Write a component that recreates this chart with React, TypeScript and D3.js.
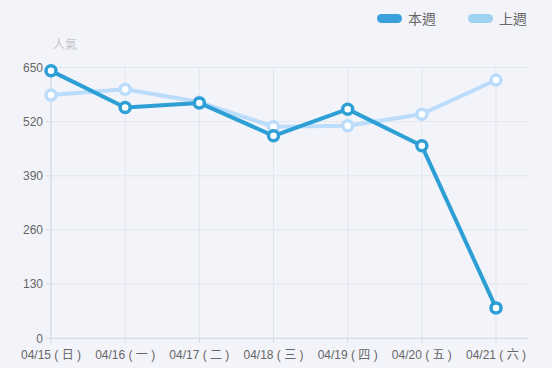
import React from 'react';
import * as d3 from 'd3';

const W = 552;
const H = 368;

const days = ['04/15 ( 日 )', '04/16 ( 一 )', '04/17 ( 二 )', '04/18 ( 三 )', '04/19 ( 四 )', '04/20 ( 五 )', '04/21 ( 六 )'];
const thisWeek = [642, 554, 565, 486, 550, 462, 73];
const lastWeek = [584, 598, 567, 508, 510, 538, 620];
const yTicks = [0, 130, 260, 390, 520, 650];

const DARK = '#2d9fd5';
const LIGHT = '#bcdcfb';
const FONT = '"Liberation Sans", "Noto Sans CJK TC", sans-serif';

export default function App() {
  const x = d3.scalePoint<string>().domain(days).range([51, 496]);
  const y = d3.scaleLinear().domain([0, 650]).range([338.3, 67.5]);
  const line = d3
    .line<number>()
    .x((_, i) => x(days[i])!)
    .y((d) => y(d));

  const series = [
    { name: '上週', values: lastWeek, color: LIGHT },
    { name: '本週', values: thisWeek, color: DARK },
  ];

  return (
    <svg
      width={W}
      height={H}
      style={{ position: 'absolute', left: 0, top: 0, fontFamily: FONT }}
    >
      <rect width={W} height={H} fill="#f3f4fa" />
      {/* grid */}
      {yTicks.map((t) => (
        <g key={t}>
          <line x1={51} x2={529} y1={y(t)} y2={y(t)} stroke={t === 0 ? '#d4d6de' : '#e3e5ec'} />
          <line x1={46} x2={51} y1={y(t)} y2={y(t)} stroke="#d4d6de" />
          <text x={43} y={y(t)} dy="0.35em" textAnchor="end" fontSize={12} fill="#666">
            {t}
          </text>
        </g>
      ))}
      {days.map((d) => (
        <g key={d}>
          <line x1={x(d)} x2={x(d)} y1={67.5} y2={338.3} stroke="#e3e5ec" />
          <line x1={x(d)} x2={x(d)} y1={338.3} y2={343} stroke="#d4d6de" />
          <text x={x(d)} y={355} dy="0.35em" textAnchor="middle" fontSize={12} fill="#666">
            {d}
          </text>
        </g>
      ))}
      <line x1={51} x2={51} y1={67.5} y2={338.3} stroke="#d4d6de" />
      <text x={53} y={45} dy="0.35em" fontSize={12} fill="#c4c4c8">
        人氣
      </text>

      {/* series */}
      {series.map((s) => (
        <g key={s.name}>
          <path d={line(s.values)!} fill="none" stroke={s.color} strokeWidth={4} strokeLinejoin="round" />
          {s.values.map((v, i) => (
            <circle key={i} cx={x(days[i])} cy={y(v)} r={5} fill="#fff" stroke={s.color} strokeWidth={3.5} />
          ))}
        </g>
      ))}

      {/* legend */}
      <rect x={377} y={14} width={25} height={9} rx={4.5} fill="#3aa0dc" />
      <text x={408} y={19} dy="0.35em" fontSize={14} fill="#666">
        本週
      </text>
      <rect x={468} y={14} width={25} height={9} rx={4.5} fill="#9fd1f1" />
      <text x={499} y={19} dy="0.35em" fontSize={14} fill="#666">
        上週
      </text>
    </svg>
  );
}
